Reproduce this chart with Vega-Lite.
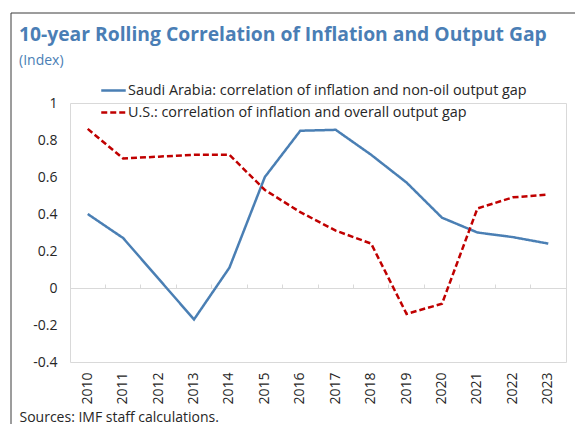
{
  "$schema": "https://vega.github.io/schema/vega-lite/v6.json",
  "width": 496,
  "height": 259,
  "autosize": {"type": "none"},
  "padding": {"left": 70, "top": 103, "right": 9, "bottom": 62},
  "background": "white",
  "config": {
    "font": "Open Sans",
    "view": {"stroke": "#d9d9d9", "strokeWidth": 1},
    "legend": {
      "orient": "none",
      "legendX": 30,
      "legendY": -26,
      "title": null,
      "labelFontSize": 14.4,
      "labelColor": "#262626",
      "labelLimit": 0,
      "labelOffset": 1,
      "symbolType": "stroke",
      "symbolSize": 600,
      "symbolStrokeWidth": 2.5,
      "rowPadding": 2,
      "padding": 0
    }
  },
  "title": {
    "text": "10-year Rolling Correlation of Inflation and Output Gap",
    "subtitle": "(Index)",
    "anchor": "start",
    "frame": "group",
    "dx": -51,
    "offset": -56,
    "fontSize": 19.3,
    "fontWeight": "bold",
    "color": "#4a7eb5",
    "subtitleColor": "#4a7eb5",
    "subtitleFontSize": 14,
    "subtitlePadding": 9
  },
  "data": {
    "values": [
      {"year": "2010", "series": "Saudi Arabia: correlation of inflation and non-oil output gap", "value": 0.40},
      {"year": "2011", "series": "Saudi Arabia: correlation of inflation and non-oil output gap", "value": 0.27},
      {"year": "2012", "series": "Saudi Arabia: correlation of inflation and non-oil output gap", "value": 0.05},
      {"year": "2013", "series": "Saudi Arabia: correlation of inflation and non-oil output gap", "value": -0.17},
      {"year": "2014", "series": "Saudi Arabia: correlation of inflation and non-oil output gap", "value": 0.11},
      {"year": "2015", "series": "Saudi Arabia: correlation of inflation and non-oil output gap", "value": 0.60},
      {"year": "2016", "series": "Saudi Arabia: correlation of inflation and non-oil output gap", "value": 0.85},
      {"year": "2017", "series": "Saudi Arabia: correlation of inflation and non-oil output gap", "value": 0.855},
      {"year": "2018", "series": "Saudi Arabia: correlation of inflation and non-oil output gap", "value": 0.72},
      {"year": "2019", "series": "Saudi Arabia: correlation of inflation and non-oil output gap", "value": 0.57},
      {"year": "2020", "series": "Saudi Arabia: correlation of inflation and non-oil output gap", "value": 0.38},
      {"year": "2021", "series": "Saudi Arabia: correlation of inflation and non-oil output gap", "value": 0.30},
      {"year": "2022", "series": "Saudi Arabia: correlation of inflation and non-oil output gap", "value": 0.275},
      {"year": "2023", "series": "Saudi Arabia: correlation of inflation and non-oil output gap", "value": 0.24},
      {"year": "2010", "series": "U.S.: correlation of inflation and overall output gap", "value": 0.86},
      {"year": "2011", "series": "U.S.: correlation of inflation and overall output gap", "value": 0.70},
      {"year": "2012", "series": "U.S.: correlation of inflation and overall output gap", "value": 0.71},
      {"year": "2013", "series": "U.S.: correlation of inflation and overall output gap", "value": 0.72},
      {"year": "2014", "series": "U.S.: correlation of inflation and overall output gap", "value": 0.72},
      {"year": "2015", "series": "U.S.: correlation of inflation and overall output gap", "value": 0.53},
      {"year": "2016", "series": "U.S.: correlation of inflation and overall output gap", "value": 0.41},
      {"year": "2017", "series": "U.S.: correlation of inflation and overall output gap", "value": 0.31},
      {"year": "2018", "series": "U.S.: correlation of inflation and overall output gap", "value": 0.24},
      {"year": "2019", "series": "U.S.: correlation of inflation and overall output gap", "value": -0.14},
      {"year": "2020", "series": "U.S.: correlation of inflation and overall output gap", "value": -0.085},
      {"year": "2021", "series": "U.S.: correlation of inflation and overall output gap", "value": 0.43},
      {"year": "2022", "series": "U.S.: correlation of inflation and overall output gap", "value": 0.49},
      {"year": "2023", "series": "U.S.: correlation of inflation and overall output gap", "value": 0.505}
    ]
  },
  "layer": [
    {
      "mark": {"type": "point", "opacity": 0},
      "encoding": {
        "x": {
          "field": "year",
          "type": "ordinal",
          "scale": {"type": "band", "paddingInner": 0, "paddingOuter": 0},
          "axis": {
            "orient": "bottom",
            "domain": false,
            "ticks": false,
            "labelAngle": -90,
            "labelAlign": "right",
            "labelBaseline": "middle",
            "labelPadding": 10,
            "labelFontSize": 14,
            "labelColor": "#262626",
            "bandPosition": 0.5,
            "title": "Sources: IMF staff calculations.",
            "titleFontSize": 14,
            "titleFontWeight": "normal",
            "titleColor": "#262626",
            "titleAnchor": "start",
            "titleAlign": "left",
            "titleBaseline": "alphabetic",
            "titleX": -51,
            "titleY": 59
          }
        },
        "shape": {
          "datum": "frame",
          "legend": {
            "orient": "none",
            "legendX": -59.5,
            "legendY": -90.5,
            "padding": 400,
            "strokeColor": "#3a3a3a",
            "symbolOpacity": 0,
            "labelExpr": "''"
          }
        }
      }
    },
    {
      "mark": {"type": "line", "strokeWidth": 2.5},
      "encoding": {
        "x": {
          "field": "year",
          "type": "ordinal",
          "scale": {"type": "band", "paddingInner": 0, "paddingOuter": 0},
          "axis": {
            "orient": "top",
            "offset": -185,
            "domain": true,
            "domainColor": "#d9d9d9",
            "domainWidth": 1,
            "ticks": true,
            "tickColor": "#d9d9d9",
            "tickSize": 4,
            "labels": false,
            "title": null,
            "bandPosition": 0
          }
        },
        "y": {
          "field": "value",
          "type": "quantitative",
          "scale": {"domain": [-0.4, 1], "nice": false, "zero": false},
          "axis": {
            "values": [-0.4, -0.2, 0, 0.2, 0.4, 0.6, 0.8, 1],
            "labelExpr": "datum.value < 0 ? '-' + format(-datum.value, '~g') : format(datum.value, '~g')",
            "domain": false,
            "ticks": false,
            "grid": false,
            "labelPadding": 13,
            "labelFontSize": 14,
            "labelColor": "#262626",
            "title": null
          }
        },
        "color": {
          "field": "series",
          "type": "nominal",
          "scale": {
            "domain": ["Saudi Arabia: correlation of inflation and non-oil output gap", "U.S.: correlation of inflation and overall output gap"],
            "range": ["#4a7fb4", "#c00000"]
          }
        },
        "strokeDash": {
          "field": "series",
          "type": "nominal",
          "scale": {
            "domain": ["Saudi Arabia: correlation of inflation and non-oil output gap", "U.S.: correlation of inflation and overall output gap"],
            "range": [[1, 0], [6, 3]]
          }
        }
      }
    }
  ],
  "resolve": {"axis": {"x": "independent"}}
}
